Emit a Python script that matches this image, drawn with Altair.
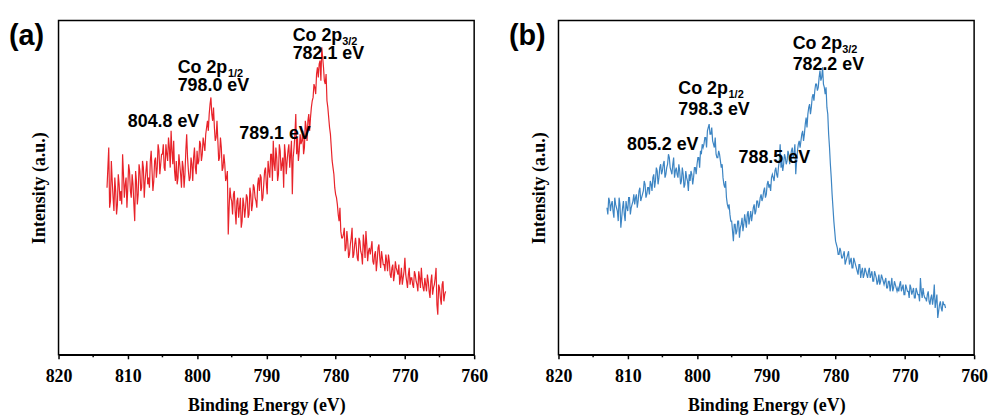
import altair as alt
import pandas as pd

# Energy grid of the Co 2p scans (eV, high to low, 0.125 eV steps)
energy_start = 813.0
energy_step = 0.125

# Panel (a) intensity, arbitrary units: readings on the whole-quarter eV grid ...
intensity_a_main = [
    50, 62, 46, 52, 43, 49, 45, 51,
    49, 60, 47, 53, 50, 55, 47, 51,
    40, 52, 48, 55, 50, 56, 52, 58,
    53, 58, 55, 52, 59, 56, 61, 57,
    60, 56, 63, 58, 62, 67, 57, 55,
    58, 53, 57, 50, 56, 54, 66, 55,
    53, 57, 59, 56, 61, 58, 63, 60,
    63, 66, 70, 72, 77, 70, 68, 65,
    64, 59, 62, 56, 57, 53, 36, 50,
    46, 48, 43, 46, 41, 47, 40, 45,
    44, 47, 42, 48, 45, 50, 46, 51,
    49, 53, 47, 55, 51, 58, 53, 60,
    64, 55, 59, 54, 61, 57, 50, 60,
    58, 63, 60, 48, 62, 72, 65, 61,
    63, 67, 62, 68, 70, 67, 74, 77,
    80, 84, 83, 88, 92, 86, 81, 76,
    71, 66, 58, 54, 48, 45, 40, 37,
    35, 38, 32, 34, 30, 35, 29, 33,
    32, 28, 34, 30, 36, 29, 33, 31,
    30, 34, 27, 31, 28, 33, 26, 29,
    27, 30, 25, 28, 23, 27, 24, 26,
    24, 21, 26, 23, 29, 22, 24, 21,
    23, 20, 24, 21, 25, 20, 22, 19,
    21, 24, 19, 22, 18, 21, 26, 12,
    20, 15, 22, 18,
]
# ... and the readings half-way between them
intensity_a_half = [
    56, 44, 58, 47, 53, 42, 54, 46,
    45, 54, 51, 44, 57, 49, 54, 45,
    55, 45, 57, 49, 58, 47, 55, 51,
    50, 61, 49, 58, 53, 63, 54, 60,
    63, 55, 60, 65, 56, 61, 64, 52,
    51, 60, 54, 58, 50, 61, 59, 52,
    59, 52, 62, 54, 57, 64, 58, 65,
    61, 68, 67, 75, 72, 74, 64, 70,
    58, 65, 55, 60, 52, 55, 44, 47,
    42, 49, 39, 47, 44, 38, 47, 41,
    48, 41, 50, 43, 51, 47, 44, 53,
    54, 46, 51, 56, 48, 55, 60, 52,
    57, 62, 52, 63, 55, 59, 63, 54,
    61, 56, 64, 59, 66, 60, 58, 66,
    64, 60, 70, 64, 72, 71, 76, 81,
    78, 86, 87, 82, 89, 82, 84, 74,
    68, 62, 56, 50, 47, 42, 44, 35,
    36, 31, 37, 29, 33, 38, 30, 35,
    29, 35, 31, 27, 33, 37, 28, 32,
    32, 28, 30, 25, 32, 29, 31, 27,
    25, 28, 30, 24, 26, 22, 28, 25,
    27, 23, 21, 25, 24, 20, 26, 23,
    21, 25, 22, 19, 23, 26, 20, 23,
    19, 22, 17, 24, 20, 23, 15, 21,
    17, 21, 16, 19,
]

# Panel (b) intensity, arbitrary units
intensity_b_main = [
    44, 47, 43, 46, 41, 45, 43, 47,
    38, 44, 42, 46, 43, 47, 44, 46,
    45, 48, 46, 50, 47, 49, 51, 48,
    50, 52, 49, 54, 52, 55, 53, 57,
    55, 58, 54, 57, 59, 55, 57, 53,
    56, 53, 55, 52, 54, 51, 53, 49,
    52, 54, 53, 56, 57, 59, 61, 63,
    63, 65, 67, 69, 66, 64, 62, 60,
    59, 60, 56, 53, 50, 47, 44, 42,
    40, 34, 39, 37, 40, 38, 41, 39,
    40, 42, 39, 43, 42, 45, 43, 46,
    45, 48, 47, 50, 48, 52, 51, 53,
    53, 55, 54, 56, 63, 58, 57, 59,
    58, 60, 59, 62, 60, 54, 61, 64,
    64, 67, 66, 71, 72, 75, 74, 78,
    79, 81, 80, 85, 83, 81, 78, 74,
    66, 57, 48, 40, 34, 32, 30, 31,
    29, 31, 28, 30, 27, 29, 26, 28,
    26, 24, 27, 25, 23, 26, 24, 25,
    23, 25, 22, 24, 21, 24, 22, 23,
    21, 23, 20, 22, 21, 19, 22, 20,
    20, 21, 19, 21, 18, 20, 19, 21,
    18, 20, 17, 19, 18, 23, 17, 18,
    17, 18, 16, 17, 15, 21, 16, 11,
    15, 14, 16, 15,
]
intensity_b_half = [
    42, 46, 45, 43, 47, 44, 40, 45,
    41, 46, 40, 44, 47, 42, 45, 48,
    47, 44, 49, 46, 48, 52, 47, 50,
    48, 51, 53, 50, 56, 51, 56, 54,
    57, 53, 56, 60, 56, 54, 59, 55,
    54, 57, 51, 56, 50, 55, 52, 54,
    55, 51, 56, 54, 59, 56, 60, 62,
    65, 62, 68, 66, 68, 63, 65, 59,
    61, 58, 57, 51, 52, 45, 45, 40,
    37, 39, 36, 40, 35, 39, 37, 42,
    38, 43, 41, 40, 44, 42, 46, 44,
    47, 46, 49, 47, 51, 50, 49, 54,
    52, 56, 53, 58, 56, 55, 60, 57,
    61, 57, 61, 59, 63, 58, 63, 62,
    66, 64, 69, 68, 74, 72, 77, 76,
    81, 79, 83, 82, 86, 80, 80, 72,
    62, 53, 44, 37, 33, 30, 32, 29,
    30, 27, 29, 31, 28, 26, 29, 27,
    25, 27, 23, 26, 24, 25, 23, 26,
    24, 22, 25, 23, 22, 21, 24, 22,
    22, 20, 22, 19, 23, 20, 21, 19,
    19, 22, 20, 18, 21, 19, 17, 20,
    19, 17, 20, 18, 16, 19, 20, 17,
    16, 19, 15, 18, 17, 14, 18, 13,
    16, 13, 15, 14,
]


def merge(main, half):
    out = []
    for a, b in zip(main, half):
        out.extend([a, b])
    return out


intensity_a = merge(intensity_a_main, intensity_a_half)
intensity_b = merge(intensity_b_main, intensity_b_half)
energy = [round(energy_start - i * energy_step, 3) for i in range(len(intensity_a))]

# Bottom-axis ticks: labelled majors every 10 eV, minors in between
major_ticks = [820, 810, 800, 790, 780, 770, 760]
minor_ticks = [815, 805, 795, 785, 775, 765]

# Peak annotations: position (eV, intensity), text and font size
note_x_a = [802.8, 795.55, 802.8, 786.2, 779.05, 786.2, 810.0, 793.9]
note_y_a = [85.8, 84.0, 80.5, 95.3, 93.5, 90.0, 69.7, 66.0]
note_text_a = ["Co 2p", "1/2", "798.0 eV", "Co 2p", "3/2", "782.1 eV", "804.8 eV", "789.1 eV"]

note_x_b = [802.7, 795.45, 802.7, 786.2, 779.05, 786.2, 810.1, 794.0]
note_y_b = [79.4, 77.6, 73.2, 93.0, 91.2, 86.6, 62.9, 58.9]
note_text_b = ["Co 2p", "1/2", "798.3 eV", "Co 2p", "3/2", "782.2 eV", "805.2 eV", "788.5 eV"]

note_size = [18, 11, 18, 18, 11, 18, 18, 18]

RED = "#e8232a"
BLUE = "#3d85c3"
SERIF = "Liberation Serif"
SANS = "Liberation Sans"
PLOT_W, PLOT_H = 419, 337

x_scale = alt.Scale(domain=[760, 820], reverse=True, nice=False, zero=False)
y_scale = alt.Scale(domain=[0, 100], nice=False, zero=False)


def panel(values, color, nx, ny, ntext, label):
    spectrum = pd.DataFrame({"energy": energy, "intensity": values})
    notes = pd.DataFrame({"energy": nx, "intensity": ny, "text": ntext, "size": note_size})
    minors = pd.DataFrame({"energy": minor_ticks})

    line = alt.Chart(spectrum).mark_line(color=color, strokeWidth=1.2).encode(
        x=alt.X(
            "energy:Q",
            scale=x_scale,
            axis=alt.Axis(
                title="Binding Energy (eV)",
                values=major_ticks,
                tickSize=4,
                tickColor="black",
                tickWidth=1.5,
                domainColor="black",
                domainWidth=1.5,
                grid=False,
                labelFont=SERIF,
                labelFontSize=18,
                labelFontWeight="bold",
                labelColor="black",
                labelPadding=9,
                labelFlush=False,
                labelOverlap=False,
                titleFont=SERIF,
                titleFontSize=18,
                titleFontWeight="bold",
                titleColor="black",
                titlePadding=11,
            ),
        ),
        y=alt.Y(
            "intensity:Q",
            scale=y_scale,
            axis=alt.Axis(
                title="Intensity (a.u.)",
                labels=False,
                ticks=False,
                domain=False,
                grid=False,
                titleFont=SERIF,
                titleFontSize=18,
                titleFontWeight="bold",
                titleColor="black",
                titlePadding=10,
            ),
        ),
    )

    # short minor ticks hanging below the bottom frame
    minor = alt.Chart(minors).mark_rule(color="black", strokeWidth=1.5).encode(
        x=alt.X("energy:Q", scale=x_scale),
        y=alt.value(PLOT_H),
        y2=alt.value(PLOT_H + 2.5),
    )

    text = alt.Chart(notes).mark_text(
        align="left", baseline="middle", font=SANS, fontWeight="bold", color="black"
    ).encode(
        x=alt.X("energy:Q", scale=x_scale),
        y=alt.Y("intensity:Q", scale=y_scale),
        text="text:N",
        size=alt.Size("size:Q", scale=None, legend=None),
    )

    tag = alt.Chart(pd.DataFrame({"tag": [label]})).mark_text(
        align="left", baseline="alphabetic", font=SANS, fontWeight="bold",
        fontSize=29, color="black"
    ).encode(x=alt.value(-50), y=alt.value(25), text="tag:N")

    return alt.layer(line, minor, text, tag).properties(width=PLOT_W, height=PLOT_H)


chart = alt.hconcat(
    panel(intensity_a, RED, note_x_a, note_y_a, note_text_a, "(a)"),
    panel(intensity_b, BLUE, note_x_b, note_y_b, note_text_b, "(b)"),
    spacing=19,
).properties(
    padding={"left": 8, "top": 18, "right": 0, "bottom": 0},
    background="white",
).configure_view(stroke="black", strokeWidth=1.5)

chart.save("out.html", embed_options={"renderer": "svg", "actions": False})
